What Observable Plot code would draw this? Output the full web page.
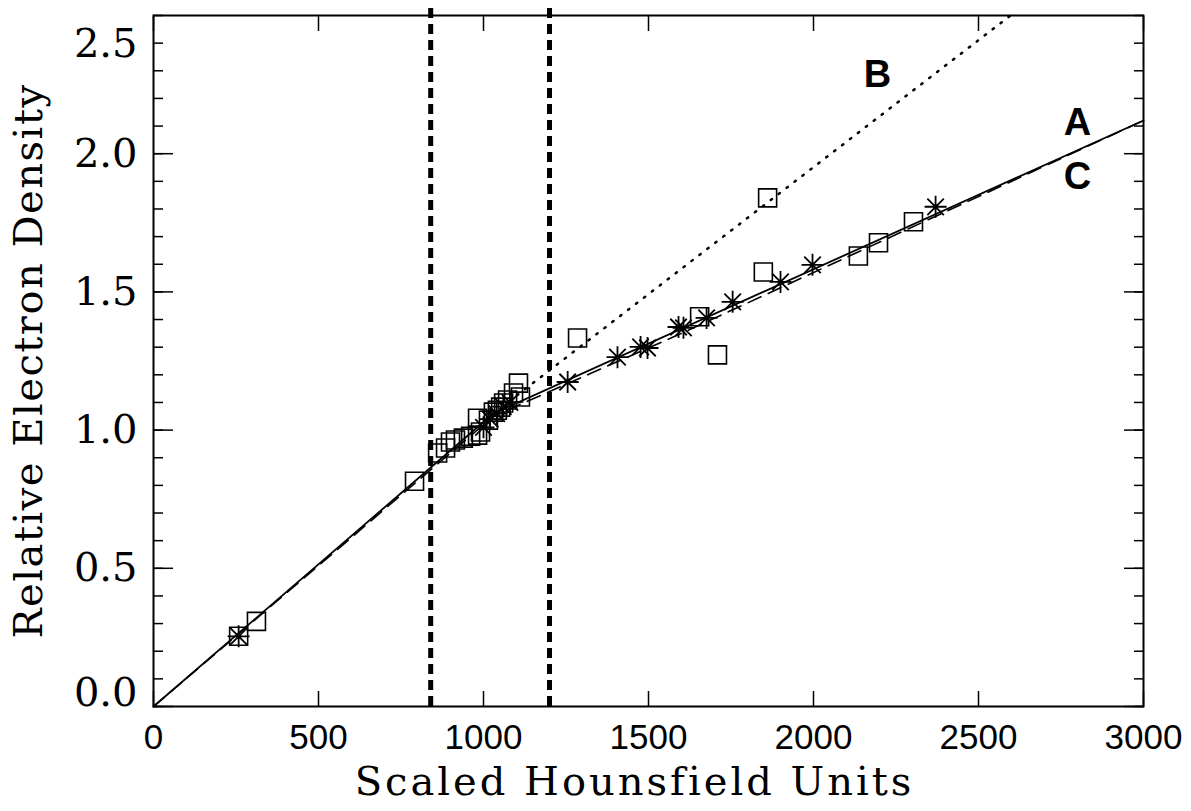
<!DOCTYPE html>
<html><head><meta charset="utf-8">
<script src="https://cdn.jsdelivr.net/npm/d3@7"></script>
<script src="https://cdn.jsdelivr.net/npm/@observablehq/plot@0.6"></script>
<style>body{margin:0;background:#fff} .y-title text{letter-spacing:1.5px} .x-title text{letter-spacing:3px}</style>
</head><body><div id="chart"></div>
<script>
// Measured phantom points (open squares)
const squareHU = [258, 312, 791, 861, 885, 900, 915, 939, 961, 982, 982, 991, 1015, 1030, 1042, 1052, 1061, 1073, 1091, 1106, 1112, 1285, 1655, 1709, 1848, 1861, 2136, 2197, 2303];
const squareED = [0.254, 0.308, 0.815, 0.917, 0.935, 0.957, 0.964, 0.971, 0.978, 0.982, 1.043, 0.993, 1.036, 1.065, 1.072, 1.083, 1.098, 1.109, 1.134, 1.170, 1.120, 1.333, 1.410, 1.272, 1.572, 1.840, 1.630, 1.678, 1.754];
// Measured points (asterisks)
const starHU = [258, 1000, 1020, 1040, 1060, 1080, 1255, 1406, 1476, 1497, 1591, 1606, 1676, 1755, 1900, 1997, 2370];
const starED = [0.254, 1.010, 1.040, 1.060, 1.085, 1.100, 1.174, 1.264, 1.301, 1.297, 1.373, 1.370, 1.406, 1.464, 1.536, 1.598, 1.808];
// Calibration curves
const lineAHU = [0, 1030, 3000];
const lineAED = [0, 1.060, 2.120];
const lineBHU = [1030, 2597];
const lineBED = [1.060, 2.500];
const lineCHU = [0, 1030, 1600, 2400, 3000];
const lineCED = [0, 1.050, 1.350, 1.790, 2.120];
// Region boundaries (dashed verticals)
const boundaryHU = [840, 1200];
// Curve labels
const curveLabels = ["A", "B", "C"];
const curveLabelHU = [2800, 2194, 2800];
const curveLabelED = [2.11, 2.286, 1.917];
// Axis ticks
const xTicks = [0, 500, 1000, 1500, 2000, 2500, 3000];
const yTicks = [0.5, 1.0, 1.5, 2.0];
const yBottomTick = [0];
const yTopTick = [2.5];
const yMajorTicks = [0, 0.5, 1.0, 1.5, 2.0];
const yMinorTicks = d3.range(0, 26).map(i => i / 10);
const xTitle = "Scaled Hounsfield Units";
const yTitle = "Relative Electron Density";

const serif = "'DejaVu Serif', 'Liberation Serif', serif";
const sans = "'Liberation Sans', Arial, sans-serif";

const squareSymbol = {
  draw(ctx, size) {
    const r = Math.sqrt(size / Math.PI);
    ctx.moveTo(-r, -r); ctx.lineTo(r, -r); ctx.lineTo(r, r); ctx.lineTo(-r, r); ctx.closePath();
  }
};
const starSymbol = {
  draw(ctx, size) {
    const r = Math.sqrt(size / Math.PI);
    const d = r * 0.75;
    ctx.moveTo(-r, 0); ctx.lineTo(r, 0);
    ctx.moveTo(0, -r); ctx.lineTo(0, r);
    ctx.moveTo(-d, -d); ctx.lineTo(d, d);
    ctx.moveTo(-d, d); ctx.lineTo(d, -d);
  }
};

const chart = Plot.plot({
  width: 1191,
  height: 811,
  marginLeft: 153,
  marginRight: 48,
  marginTop: 15,
  marginBottom: 105,
  style: {background: "#fff", color: "#000"},
  x: {domain: [0, 3000], label: null},
  y: {domain: [0, 2.5], label: null},
  marks: [
    // bottom axis with labels (ticks inward)
    Plot.axisX({anchor: "bottom", ticks: xTicks, tickSize: -15, tickPadding: 33, tickFormat: d3.format("d"),
      fontSize: 35, fontFamily: sans, strokeWidth: 1.5, label: null}),
    Plot.axisX({anchor: "top", ticks: xTicks, tickSize: -15, tickFormat: () => "", strokeWidth: 1.5, label: null}),
    Plot.axisY({anchor: "left", ticks: yMajorTicks, tickSize: -20, tickFormat: () => "", strokeWidth: 1.5, label: null}),
    Plot.axisY({anchor: "left", ticks: yTicks, tickSize: 0, tickPadding: 16, tickFormat: d3.format(".1f"),
      fontSize: 40, fontFamily: serif, label: null}),
    Plot.axisY({anchor: "left", ticks: yBottomTick, tickSize: 0, tickPadding: 16, tickFormat: d3.format(".1f"),
      dy: -13, fontSize: 40, fontFamily: serif, label: null}),
    Plot.axisY({anchor: "left", ticks: yTopTick, tickSize: 0, tickPadding: 16, tickFormat: d3.format(".1f"),
      dy: 29, fontSize: 40, fontFamily: serif, label: null}),
    Plot.axisY({anchor: "left", ticks: yMinorTicks, tickSize: -10, tickFormat: () => "", strokeWidth: 1.5, label: null}),
    Plot.axisY({anchor: "right", ticks: yMajorTicks, tickSize: -20, tickFormat: () => "", strokeWidth: 1.5, label: null}),
    Plot.axisY({anchor: "right", ticks: yMinorTicks, tickSize: -10, tickFormat: () => "", strokeWidth: 1.5, label: null}),
    Plot.frame({stroke: "#000", strokeWidth: 2}),
    Plot.text([xTitle], {frameAnchor: "bottom", dy: 88, dx: -14, fontSize: 40, fontFamily: serif, fill: "#000",
      className: "x-title"}),
    Plot.text([yTitle], {frameAnchor: "left", rotate: -90, textAnchor: "middle", dx: -124, fontSize: 40,
      fontFamily: serif, fill: "#000", className: "y-title"}),
    // region boundaries
    Plot.ruleX(boundaryHU, {x: d => d, y1: 0, y2: 2.535, stroke: "#000", strokeWidth: 5, strokeDasharray: "10,6", clip: false}),
    // curves
    Plot.line(lineCHU, {x: lineCHU, y: lineCED, stroke: "#000", strokeWidth: 1.6, strokeDasharray: "14,8"}),
    Plot.line(lineAHU, {x: lineAHU, y: lineAED, stroke: "#000", strokeWidth: 1.8}),
    Plot.line(lineBHU, {x: lineBHU, y: lineBED, stroke: "#000", strokeWidth: 2.5, strokeDasharray: "1.5,8.5", strokeLinecap: "round"}),
    // points
    Plot.dot(squareHU, {x: squareHU, y: squareED, symbol: squareSymbol, r: 9, stroke: "#000", strokeWidth: 1.6, fill: "none"}),
    Plot.dot(starHU, {x: starHU, y: starED, symbol: starSymbol, r: 11, stroke: "#000", strokeWidth: 1.8, fill: "none"}),
    // labels
    Plot.text(curveLabels, {x: curveLabelHU, y: curveLabelED, text: d => d, fontSize: 38, fontWeight: "bold",
      fontFamily: sans, fill: "#000"})
  ]
});
document.getElementById("chart").appendChild(chart);
</script></body></html>
